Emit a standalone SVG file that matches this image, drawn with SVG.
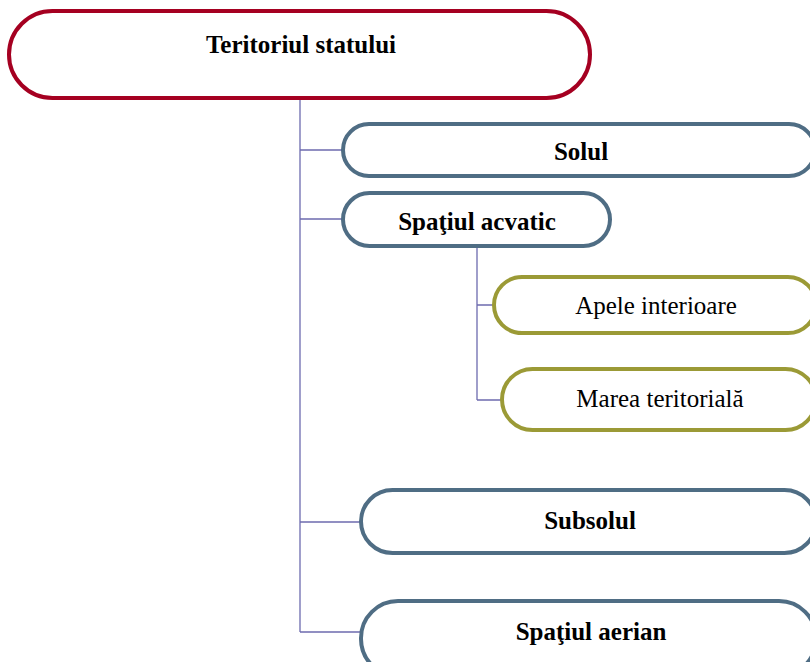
<svg xmlns="http://www.w3.org/2000/svg" width="810" height="662" viewBox="0 0 810 662">
<style>
.conn{stroke:#6D6BAF;stroke-width:1.3;fill:none}
.red{fill:#fff;stroke:#A50021;stroke-width:4}
.blue{fill:#fff;stroke:#4F6D84;stroke-width:4}
.olive{fill:#fff;stroke:#9B9A36;stroke-width:4}
.b{font-family:"Liberation Serif",serif;font-weight:bold;font-size:25px;fill:#000;text-anchor:middle}
.n{font-family:"Liberation Serif",serif;font-size:25px;fill:#000;text-anchor:middle}
</style>
<rect width="810" height="662" fill="#fff"/>
<g id="connectors">
<path class="conn" d="M300 98V632M300 150H343M300 219H343M300 522H361M300 632H361"/>
<path class="conn" d="M477 246V400M477 305H494M477 400H502"/>
</g>
<g id="n-teritoriul"><rect class="red" x="9" y="11" width="581" height="87" rx="43.5"/><text class="b" x="301" y="53">Teritoriul statului</text></g>
<g id="n-solul"><rect class="blue" x="343" y="124" width="472" height="52" rx="26"/><text class="b" x="581" y="160">Solul</text></g>
<g id="n-acvatic"><rect class="blue" x="343" y="193" width="267" height="53" rx="26.5"/><text class="b" x="477" y="230">Spaţiul acvatic</text></g>
<g id="n-apele"><rect class="olive" x="494" y="277" width="322" height="56" rx="28"/><text class="n" x="656" y="314">Apele interioare</text></g>
<g id="n-marea"><rect class="olive" x="502" y="369" width="314" height="61" rx="30.5"/><text class="n" x="660" y="407">Marea teritorială</text></g>
<g id="n-subsolul"><rect class="blue" x="361" y="490" width="455" height="63" rx="31.5"/><text class="b" x="590" y="529">Subsolul</text></g>
<g id="n-aerian"><rect class="blue" x="361" y="601" width="455" height="75" rx="37"/><text class="b" x="591" y="640">Spaţiul aerian</text></g>
</svg>
